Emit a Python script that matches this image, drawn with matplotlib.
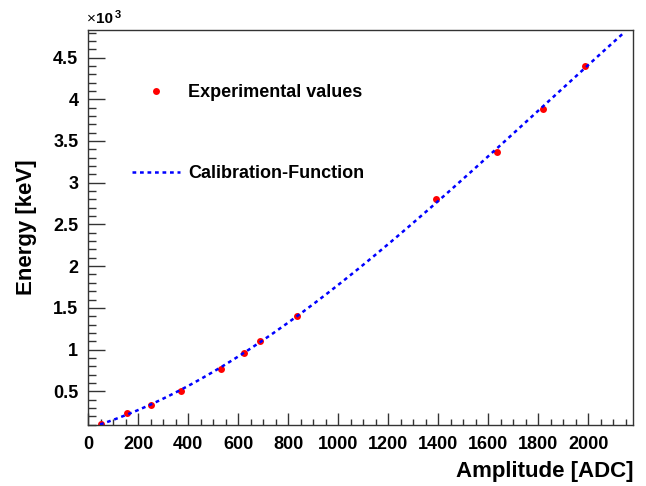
import matplotlib
matplotlib.use("Agg")
import matplotlib.pyplot as plt
import numpy as np
from matplotlib.ticker import FixedLocator, MultipleLocator, FuncFormatter

# Measured calibration points (ADC amplitude -> deposited energy in keV)
amplitude_adc = [51, 155, 251, 372, 532, 623, 688, 835, 1389, 1636, 1817, 1987]
energy_kev = [108, 236, 335, 503, 770, 962, 1105, 1401, 2799, 3373, 3888, 4403]

# Range over which the calibration function is drawn
fit_range = (48, 2145)

x_limits = (0, 2178)
y_limits = (96, 4830)
y_major = [500, 1000, 1500, 2000, 2500, 3000, 3500, 4000, 4500]

FONT = "Liberation Sans"
plt.rcParams["font.family"] = [FONT, "DejaVu Sans"]

fig = plt.figure(figsize=(6.46, 4.86), dpi=100)
ax = fig.add_axes([88 / 646, 61 / 486, 545 / 646, 395 / 486])

# polynomial calibration through the measured points
coef = np.polyfit(amplitude_adc, energy_kev, 3)
xs = np.linspace(fit_range[0], fit_range[1], 400)
ys = np.polyval(coef, xs)

ax.plot(amplitude_adc, energy_kev, "o", color="#ff0000", ms=5, mec="none",
        label="Experimental values", zorder=2)
ax.plot(xs, ys, color="#0000ff", lw=1.8, dashes=(1.5, 1.5),
        label="Calibration-Function", zorder=3)

ax.set_xlim(*x_limits)
ax.set_ylim(*y_limits)

ax.xaxis.set_major_locator(MultipleLocator(200))
ax.xaxis.set_minor_locator(MultipleLocator(50))
ax.yaxis.set_major_locator(FixedLocator(y_major))
ax.yaxis.set_minor_locator(MultipleLocator(100))
ax.yaxis.set_major_formatter(FuncFormatter(lambda v, _: f"{v / 1000:g}"))

ax.tick_params(which="both", direction="in", top=False, right=False,
               color="#333333", width=1)
ax.tick_params(axis="y", which="major", length=12, pad=7, labelsize=13)
ax.tick_params(axis="y", which="minor", length=6)
ax.tick_params(axis="x", which="major", length=9, pad=8, labelsize=13)
ax.tick_params(axis="x", which="minor", length=4.5)
for lab in ax.get_xticklabels() + ax.get_yticklabels():
    lab.set_fontweight("bold")
for sp in ax.spines.values():
    sp.set_color("#333333")
    sp.set_linewidth(1)

ax.set_xlabel("Amplitude [ADC]", fontsize=16, fontweight="bold")
ax.xaxis.label.set_ha("right")
ax.xaxis.label.set_va("center")
ax.xaxis.set_label_coords(1.0, -0.1165)
ax.set_ylabel("Energy [keV]", fontsize=16, fontweight="bold")
ax.yaxis.label.set_va("center")
ax.yaxis.set_label_coords(-0.1128, 0.5)

# ROOT-style exponent marker above the y axis
fig.text(87 / 646, 1 - 23 / 486, "\u00d7", fontsize=11, va="baseline")
fig.text(96 / 646, 1 - 23 / 486, "10", fontsize=11, fontweight="bold",
         va="baseline")
fig.text(114.5 / 646, 1 - 18.5 / 486, "3", fontsize=8, fontweight="bold",
         va="baseline")

leg = ax.legend(loc="center left", bbox_to_anchor=(132 / 646, 1 - 133 / 486),
                bbox_transform=fig.transFigure, frameon=False, borderpad=0,
                borderaxespad=0, handlelength=2.67, handletextpad=0.44,
                labelspacing=3.55, prop={"size": 13, "weight": "bold"})

fig.savefig("out.png", dpi=100)
